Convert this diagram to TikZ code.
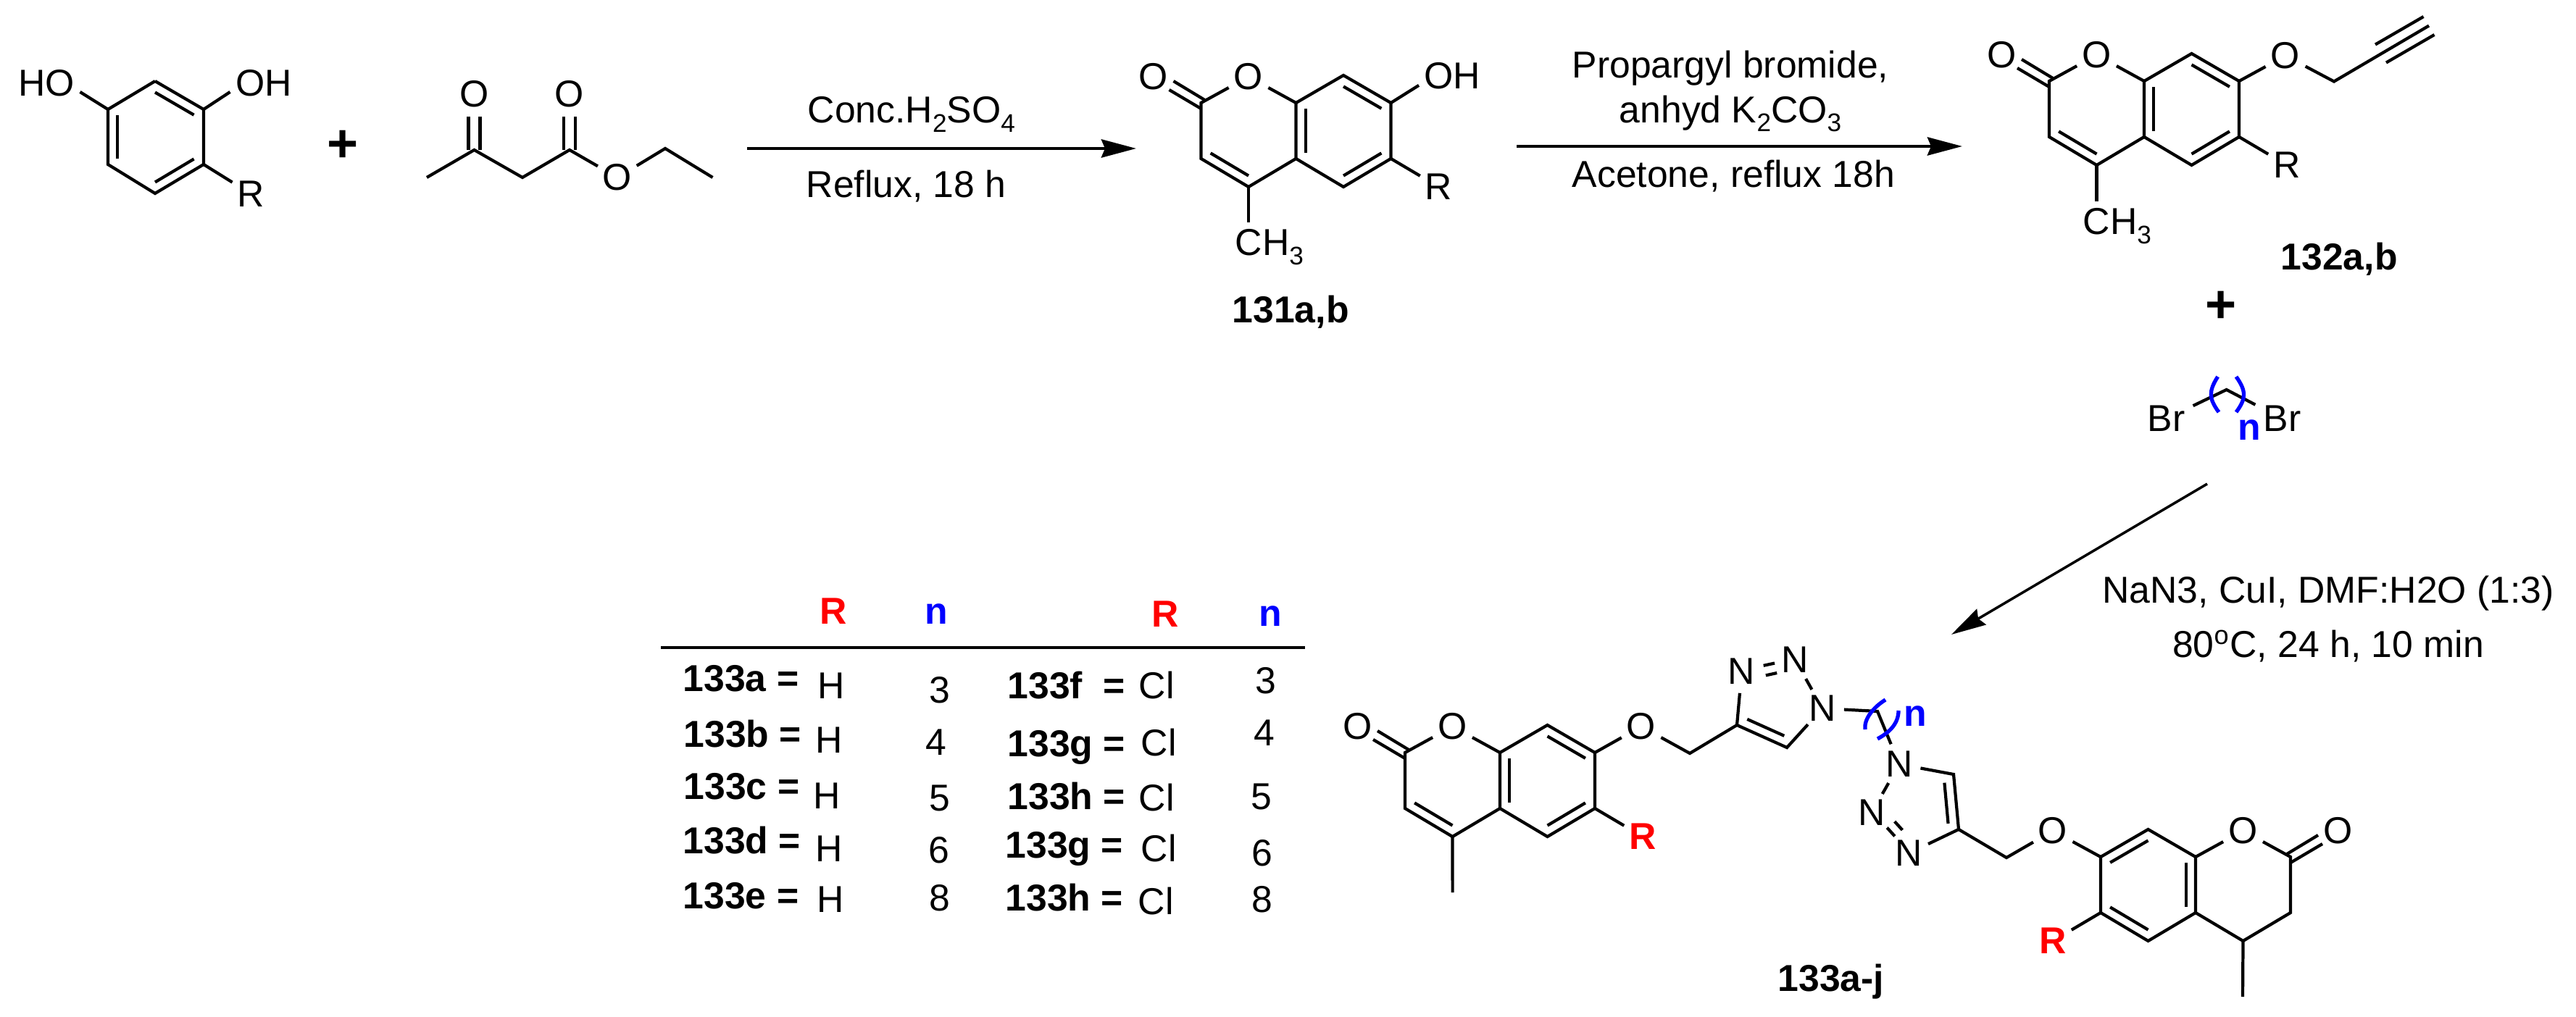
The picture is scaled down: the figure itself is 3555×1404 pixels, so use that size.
\documentclass[tikz,border=0pt]{standalone}
\usepackage{fontspec}
\setmainfont{Liberation Sans}
\usetikzlibrary{arrows.meta, calc}
\definecolor{cR}{RGB}{255, 0, 0}
\definecolor{cN}{RGB}{0, 0, 255}
\newcommand{\chemfont}{\fontsize{14.7}{17.6}\selectfont}
\newcommand{\chemsub}[1]{\raisebox{-0.45ex}{\fontsize{10}{10}\selectfont #1}}
\tikzstyle{bond}=[line width=1.2pt]
\tikzstyle{react}=[-{Stealth[length=0.48cm,width=0.25cm,inset=0.05cm]},line width=1.3pt]
\tikzstyle{atom}=[circle,inner sep=0.7pt,font=\chemfont]
\tikzstyle{atomw}=[rectangle,inner sep=2pt,font=\chemfont]
\tikzstyle{txt}=[inner sep=0pt,anchor=base west,font=\chemfont]
\tikzstyle{cmpd}=[inner sep=0pt,anchor=base west,font=\chemfont\bfseries]
\tikzstyle{redR}=[text=cR,font=\chemfont\bfseries]
\tikzstyle{bracket}=[cN,line width=1.5pt]
\tikzstyle{bigplus}=[inner sep=0pt,font=\fontsize{21}{21}\selectfont\bfseries]
% inner line of a double bond, drawn toward the ring centre
\newcommand{\innerbond}[4][.2]{\draw[bond] ($(#2)!#1!(#4)$) -- ($(#3)!#1!(#4)$);}
% bicyclic core: name prefix, scope options, style of the R label
\newcommand{\coumarin}[3]{%
  \begin{scope}[#2]
    \coordinate (#1c2) at (0,0);
    \coordinate (#1c3) at (0,77);
    \coordinate (#1c4) at (65.5,116);
    \coordinate (#1c4a) at (131,77);
    \coordinate (#1c8a) at (131,0);
    \coordinate (#1c8) at (196.5,-38);
    \coordinate (#1c7) at (262,0);
    \coordinate (#1c6) at (262,77);
    \coordinate (#1c5) at (196.5,116);
    \coordinate (#1lc) at (65.5,39);
    \coordinate (#1rc) at (196.5,39);
    \coordinate (#1ka) at (-38,-30);
    \coordinate (#1kb) at (5,-4);
    \coordinate (#1kc) at (-44,-18);
    \coordinate (#1kd) at (0,8);
    \node [atom] (#1o1) at (65.5,-36) {O};
    \node [atom] (#1oc) at (-65.5,-36) {O};
    \node [atom,#3] (#1r) at (328,116) {R};
    \draw[bond] (#1o1) -- (#1c2) -- (#1c3) -- (#1c4) -- (#1c4a) -- (#1c8a) -- (#1o1);
    \draw[bond] (#1c4a) -- (#1c5) -- (#1c6) -- (#1c7) -- (#1c8) -- (#1c8a);
    \draw[bond] (#1c6) -- (#1r);
    \draw[bond] (#1ka) -- (#1kb);
    \draw[bond] (#1kc) -- (#1kd);
    \innerbond{#1c8a}{#1c4a}{#1rc}
    \innerbond{#1c8}{#1c7}{#1rc}
    \innerbond{#1c6}{#1c5}{#1rc}
  \end{scope}}

\begin{document}
\begin{tikzpicture}[x=0.01cm,y=-0.01cm]
  \useasboundingbox (0,0) rectangle (3555,1404);

  % first ring
  \coordinate (pa) at (214,112);
  \coordinate (pb) at (281,151);
  \coordinate (pc) at (281,227);
  \coordinate (pd) at (214,267);
  \coordinate (pe) at (149,227);
  \coordinate (pf) at (149,151);
  \coordinate (pm) at (214,189.5);
  \node [atomw] (ho) at (64,114.5) {HO};
  \node [atomw] (oh) at (364,114.5) {OH};
  \node [atom] (pr) at (346,267.5) {R};
  \draw[bond] (pa) -- (pb) -- (pc) -- (pd) -- (pe) -- (pf) -- (pa);
  \draw[bond] (pf) -- (ho.-15);
  \draw[bond] (pb) -- (oh.195);
  \draw[bond] (pc) -- (pr);
  \innerbond{pa}{pb}{pm}
  \innerbond{pc}{pd}{pm}
  \innerbond{pe}{pf}{pm}
  \node [bigplus] (plusa) at (473.5,202) {+};

  % keto ester
  \coordinate (ka) at (589,245);
  \coordinate (kb) at (654.5,207);
  \coordinate (kc) at (721,245);
  \coordinate (kd) at (786,207);
  \coordinate (ke) at (918,205);
  \coordinate (kf) at (983.5,245);
  \node [atom] (koa) at (654.5,130) {O};
  \node [atom] (kob) at (786,130) {O};
  \node [atom] (koc) at (852,245) {O};
  \draw[bond] (ka) -- (kb) -- (kc) -- (kd) -- (koc) -- (ke) -- (kf);
  \draw[bond,transform canvas={xshift=-0.08cm}] (koa) -- (kb);
  \draw[bond,transform canvas={xshift=0.08cm}] (koa) -- (kb);
  \draw[bond,transform canvas={xshift=-0.08cm}] (kob) -- (kd);
  \draw[bond,transform canvas={xshift=0.08cm}] (kob) -- (kd);

  % first step
  \coordinate (sa) at (1031,205);
  \coordinate (sb) at (1568,205);
  \draw[react] (sa) -- (sb);
  \node [txt] (conc) at (1114,170) {Conc.H\chemsub{2}SO\chemsub{4}};
  \node [txt] (refl) at (1112,273) {Reflux, 18 h};

  % 131
  \coumarin{a}{shift={(1657.5,142)}}{}
  \innerbond{ac3}{ac4}{alc}
  \node [atomw] (aoh) at (2004.5,104.5) {OH};
  \node [txt] (ach) at (1704,353) {CH\chemsub{3}};
  \draw[bond] (ac7) -- (aoh.196);
  \draw[bond,shorten >=0.09cm] (ac4) -- (ac4 |- ach.north);
  \node [cmpd] (acp) at (1700,446) {131a,b};

  % second step
  \coordinate (ta) at (2093,202);
  \coordinate (tb) at (2708,202);
  \draw[react] (ta) -- (tb);
  \node [align=center,font=\chemfont] (prop) at (2388,126) {Propargyl bromide,\\anhyd K\chemsub{2}CO\chemsub{3}};
  \node [txt] (acet) at (2169,259) {Acetone, reflux 18h};

  % 132
  \coumarin{b}{shift={(2828,112)}}{}
  \innerbond{bc3}{bc4}{blc}
  \node [atom] (bo) at (3154,77) {O};
  \node [txt] (bch) at (2874,324) {CH\chemsub{3}};
  \coordinate (bm) at (3221,112.5);
  \coordinate (bt) at (3285.5,74);
  \coordinate (bu) at (3352,35.5);
  \draw[bond] (bc7) -- (bo) -- (bm) -- (bu);
  \draw[bond,transform canvas={shift={(-7.5,-12.5)}}] (bt) -- (bu);
  \draw[bond,transform canvas={shift={(7.5,12.5)}}] (bt) -- (bu);
  \draw[bond,shorten >=0.09cm] (bc4) -- (bc4 |- bch.north);
  \node [cmpd] (bcp) at (3147,373) {132a,b};
  \node [bigplus] (plusb) at (3065,424) {+};

  % dibromide
  \node [atomw,inner sep=3pt] (bra) at (2989.5,578) {Br};
  \node [atomw,inner sep=3pt] (brb) at (3149.5,578) {Br};
  \coordinate (brm) at (3072.6,538);
  \draw[bond] (bra) -- (brm) -- (brb);
  \draw[bracket] (3060.6,520) .. controls (3048,540) and (3048,550) .. (3062,569);
  \draw[bracket] (3086,520) .. controls (3100,540) and (3100,550) .. (3086,569);
  \node [cmpd,text=cN] (brn) at (3088,608) {n};

  % third step
  \coordinate (ua) at (3046,668);
  \coordinate (ub) at (2693,876);
  \draw[react,line width=1pt] (ua) -- (ub);
  \node [align=center,font=\chemfont] (naz) at (3213,855) {NaN3, CuI, DMF:H2O (1:3)\\[3.7pt]80\textsuperscript{o}C, 24 h, 10 min};

  % table
  \node [cmpd,text=cR] (ra) at (1131,862) {R};
  \node [cmpd,text=cN] (na) at (1276,861.5) {n};
  \node [cmpd,text=cR] (rb) at (1589,866) {R};
  \node [cmpd,text=cN] (nb) at (1737,865) {n};
  \coordinate (tla) at (912,894);
  \coordinate (tlb) at (1801,894);
  \draw[line width=1pt] (tla) -- (tlb);
  \node [cmpd] (la) at (942,954) {133a =};
  \node [cmpd] (lb) at (943,1031) {133b =};
  \node [cmpd] (lc) at (943,1103) {133c =};
  \node [cmpd] (ld) at (942,1178) {133d =};
  \node [cmpd] (le) at (942,1254.5) {133e =};
  \node [txt] (va) at (1128,964) {H};
  \node [txt] (vb) at (1125,1039) {H};
  \node [txt] (vc) at (1122,1116) {H};
  \node [txt] (vd) at (1125,1189) {H};
  \node [txt] (ve) at (1127,1259.5) {H};
  \node [txt] (da) at (1282,970) {3};
  \node [txt] (db) at (1277,1042) {4};
  \node [txt] (dc) at (1282,1119) {5};
  \node [txt] (dd) at (1281,1191) {6};
  \node [txt] (de) at (1282,1257.5) {8};
  \node [cmpd] (lf) at (1390,964) {133f\ \ =};
  \node [cmpd] (lg) at (1390,1044) {133g =};
  \node [cmpd] (lh) at (1390,1117) {133h =};
  \node [cmpd] (li) at (1387,1184.5) {133g =};
  \node [cmpd] (lj) at (1387,1257.5) {133h =};
  \node [txt] (vf) at (1571,965) {Cl};
  \node [txt] (vg) at (1574,1043) {Cl};
  \node [txt] (vh) at (1571,1119.5) {Cl};
  \node [txt] (vi) at (1574,1189) {Cl};
  \node [txt] (vj) at (1570,1262) {Cl};
  \node [txt] (df) at (1732,957) {3};
  \node [txt] (dg) at (1730,1029.5) {4};
  \node [txt] (dh) at (1726,1117) {5};
  \node [txt] (di) at (1727,1195) {6};
  \node [txt] (dj) at (1727,1259) {8};

  % 133, left half
  \coumarin{c}{shift={(1939,1039)}}{redR}
  \innerbond{cc3}{cc4}{clc}
  \coordinate (cme) at (2004.6,1232);
  \node [atom] (co) at (2265,1003) {O};
  \coordinate (cm) at (2332,1040);
  \coordinate (tc4) at (2397,1001);
  \coordinate (tc5) at (2466,1032);
  \coordinate (tcc) at (2451.8,969.8);
  \node [atom] (tn1) at (2515,978) {N};
  \node [atom] (tn2) at (2477.5,911) {N};
  \node [atom] (tn3) at (2403.6,927) {N};
  \draw[bond] (cc4) -- (cme);
  \draw[bond] (cc7) -- (co) -- (cm) -- (tc4) -- (tc5) -- (tn1);
  \draw[bond] (tc4) -- (tn3);
  \draw[bond] (tn1) -- (tn2);
  \draw[bond,transform canvas={shift={(0.8,-1.8)}}] (tn3) -- (tn2);
  \draw[bond,transform canvas={shift={(4,11.7)}}] (tn3) -- (tn2);
  \innerbond[.26]{tc4}{tc5}{tcc}

  % linker
  \coordinate (cha) at (2591,982);
  \node [atom] (un1) at (2621,1055) {N};
  \draw[bond] (tn1) -- (cha) -- (un1);
  \draw[bracket] (2602,966) .. controls (2586,976) and (2572,992) .. (2574,1007);
  \draw[bracket] (2620,981) .. controls (2620,1000) and (2606,1012) .. (2591,1020);
  \node [cmpd,text=cN] (chn) at (2627,1002) {n};

  % 133, right half
  \node [atom] (un2) at (2583,1122) {N};
  \node [atom] (un3) at (2634,1178) {N};
  \coordinate (uc5) at (2696,1069);
  \coordinate (uc4) at (2703,1145);
  \coordinate (ucc) at (2647.4,1113.8);
  \draw[bond] (un1) -- (uc5) -- (uc4) -- (un3);
  \draw[bond] (un1) -- (un2);
  \draw[bond,transform canvas={shift={(11.5,-10)}}] (un2) -- (un3);
  \draw[bond,transform canvas={shift={(1,-1.5)}}] (un2) -- (un3);
  \innerbond[.26]{uc5}{uc4}{ucc}
  \coumarin{d}{shift={(3161,1183)},xscale=-1}{redR}
  \coordinate (dme) at (3095,1376);
  \coordinate (dm) at (2769,1184);
  \node [atom] (dox) at (2833,1147) {O};
  \draw[bond] (dc4) -- (dme);
  \draw[bond] (uc4) -- (dm) -- (dox) -- (dc7);
  \node [cmpd] (dcp) at (2453,1368) {133a-j};
\end{tikzpicture}
\end{document}
